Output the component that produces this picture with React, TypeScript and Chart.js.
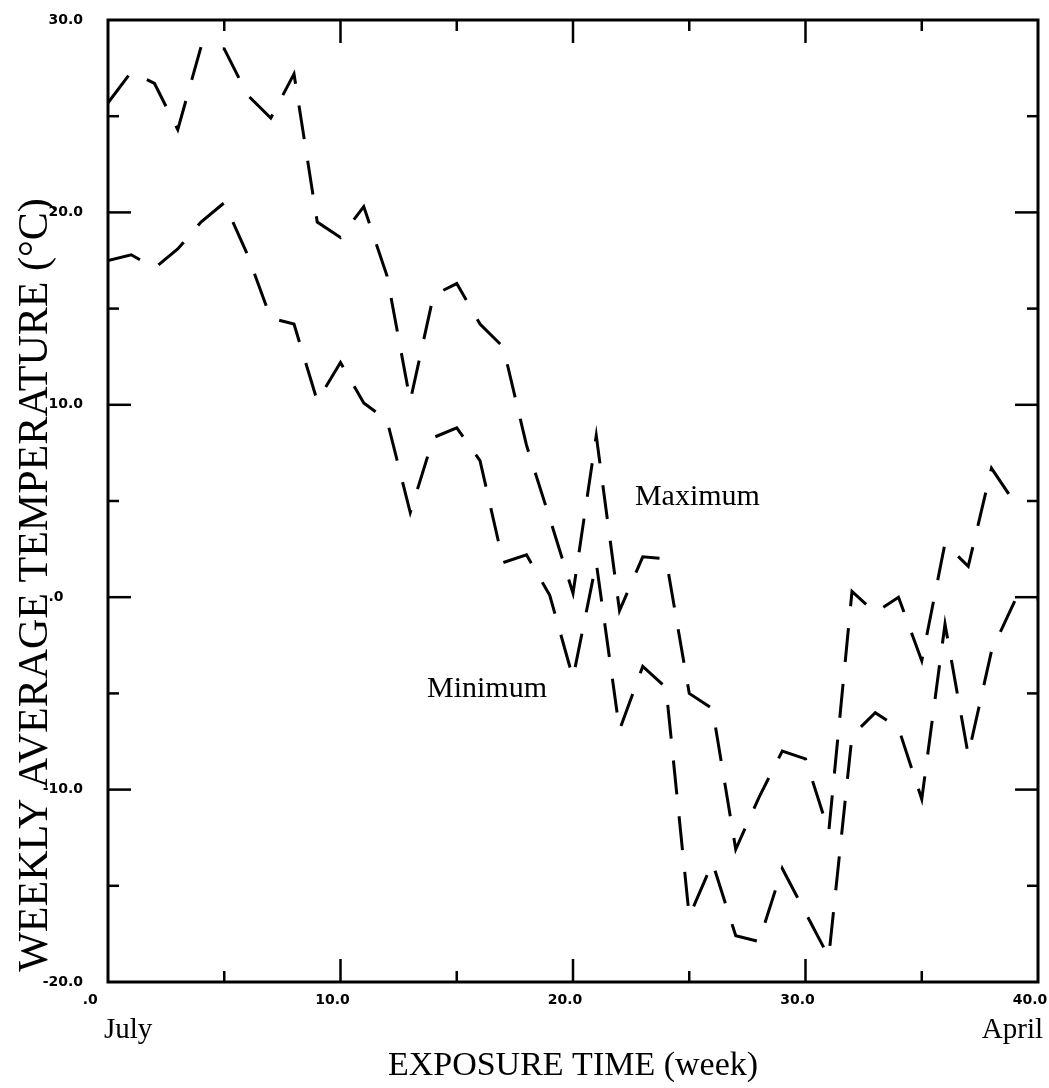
import { useEffect, useRef } from "react";
import { Chart, registerables } from "chart.js";

Chart.register(...registerables);

// ---- data ----
const weeks = [
  0, 1, 2, 3, 4, 5, 6, 7, 8, 9, 10, 11, 12, 13, 14, 15, 16, 17, 18, 19, 20,
  21, 22, 23, 24, 25, 26, 27, 28, 29, 30, 31, 32, 33, 34, 35, 36, 37, 38, 39, 40,
];

const maxTemp: (number | null)[] = [
  25.7, 27.3, 26.7, 24.3, 28.6, 28.5, 26.1, 24.9, 27.2, 19.5, 18.7, 20.3, 16.7,
  10.2, 15.7, 16.3, 14.2, 13.0, 7.9, 4.1, 0.2, 8.4, -0.7, 2.1, 2.0, -5.0, -5.8,
  -13.1, -10.4, -8.0, -8.4, -12.2, 0.3, -0.8, 0.0, -3.3, 2.8, 1.6, 6.7, 4.9,
  null,
];

const minTemp: (number | null)[] = [
  17.5, 17.8, 17.1, 18.1, 19.5, 20.5, 17.8, 14.5, 14.2, 10.2, 12.2, 10.1, 9.2,
  4.4, 8.3, 8.8, 7.1, 1.8, 2.2, 0.1, -4.2, 1.8, -6.9, -3.6, -4.7, -16.6, -13.8,
  -17.6, -17.9, -14.1, -16.4, -18.7, -7.2, -6.0, -6.8, -10.5, -1.4, -8.2, -2.8,
  -0.2, -0.1,
];

const yTickValues = [-20, -10, 0, 10, 20, 30];
const xTickValues = [0, 10, 20, 30, 40];
const yTickMarks = [-15, -10, -5, 0, 5, 10, 15, 20, 25];
const xTickMarks = [5, 10, 15, 20, 25, 30, 35];

const seriesLabels = ["Maximum", "Minimum"];
const xTitle = "EXPOSURE TIME (week)";
const yTitle = "WEEKLY AVERAGE TEMPERATURE (°C)";
const startLabel = "July";
const endLabel = "April";

// ---- helpers ----
const fmt = (v: number) => (v === 0 ? ".0\u2007\u2007" : v.toFixed(1));
const SERIF = '"Liberation Serif", "Times New Roman", serif';

const decor = {
  id: "decor",
  afterDraw(chart: any) {
    const { ctx, chartArea: a, scales } = chart;
    const xs = scales.x;
    const ys = scales.y;
    ctx.save();
    ctx.strokeStyle = "#000";
    ctx.fillStyle = "#000";
    ctx.lineCap = "butt";

    // frame
    ctx.lineWidth = 3;
    ctx.strokeRect(a.left, a.top, a.right - a.left, a.bottom - a.top);

    // inward tick marks
    ctx.lineWidth = 2.5;
    const seg = (x1: number, y1: number, x2: number, y2: number) => {
      ctx.beginPath();
      ctx.moveTo(x1, y1);
      ctx.lineTo(x2, y2);
      ctx.stroke();
    };
    for (const v of yTickMarks) {
      const py = ys.getPixelForValue(v);
      const len = v % 10 === 0 ? 23 : 11;
      seg(a.left, py, a.left + len, py);
      seg(a.right, py, a.right - len, py);
    }
    for (const v of xTickMarks) {
      const px = xs.getPixelForValue(v);
      const len = v % 10 === 0 ? 23 : 11;
      seg(px, a.bottom, px, a.bottom - len);
      seg(px, a.top, px, a.top + len);
    }

    // series labels
    ctx.font = `30px ${SERIF}`;
    ctx.textAlign = "center";
    ctx.textBaseline = "middle";
    ctx.fillText(seriesLabels[0], xs.getPixelForValue(25.35), ys.getPixelForValue(5.2));
    ctx.fillText(seriesLabels[1], xs.getPixelForValue(16.3), ys.getPixelForValue(-4.8));

    // month labels
    ctx.font = `29px ${SERIF}`;
    ctx.textAlign = "left";
    ctx.fillText(startLabel, a.left - 4, 1030);
    ctx.textAlign = "right";
    ctx.fillText(endLabel, a.right + 5, 1030);

    // x title
    ctx.font = `34px ${SERIF}`;
    ctx.textAlign = "center";
    ctx.fillText(xTitle, (a.left + a.right) / 2, 1066);

    // y title
    ctx.save();
    ctx.translate(36, 585);
    ctx.rotate(-Math.PI / 2);
    ctx.font = `42px ${SERIF}`;
    ctx.textAlign = "center";
    ctx.textBaseline = "middle";
    ctx.fillText(yTitle, 0, 0);
    ctx.restore();

    ctx.restore();
  },
};

export default function App() {
  const ref = useRef<HTMLCanvasElement | null>(null);

  useEffect(() => {
    if (!ref.current) return;
    const lineStyle = {
      borderColor: "#000",
      borderWidth: 3,
      borderDash: [34, 22],
      pointRadius: 0,
      tension: 0,
      fill: false,
      spanGaps: false,
    };
    const tickFont = { family: '"DejaVu Sans"', size: 14, weight: "bold" as const };
    const chart = new Chart(ref.current, {
      type: "line",
      data: {
        datasets: [
          {
            label: seriesLabels[0],
            data: weeks.map((w, i) => ({ x: w, y: maxTemp[i] })),
            ...lineStyle,
          },
          {
            label: seriesLabels[1],
            data: weeks.map((w, i) => ({ x: w, y: minTemp[i] })),
            ...lineStyle,
          },
        ],
      },
      options: {
        responsive: false,
        animation: false,
        events: [],
        layout: { autoPadding: false, padding: { top: 20, right: 11, bottom: 0, left: 0 } },
        plugins: {
          legend: { display: false },
          tooltip: { enabled: false },
        },
        scales: {
          x: {
            type: "linear",
            min: 0,
            max: 40,
            position: "bottom",
            afterFit: (s: any) => {
              s.height = 106;
              s.paddingLeft = 0;
              s.paddingRight = 0;
            },
            afterBuildTicks: (s: any) => {
              s.ticks = xTickValues.map((v) => ({ value: v }));
            },
            grid: { display: false, drawTicks: false },
            border: { display: false },
            ticks: {
              callback: (v: any) => fmt(Number(v)),
              font: tickFont,
              color: "#000",
              padding: 10,
              labelOffset: -8,
              maxRotation: 0,
              autoSkip: false,
            },
          },
          y: {
            type: "linear",
            min: -20,
            max: 30,
            position: "left",
            afterFit: (s: any) => {
              s.width = 108;
              s.paddingTop = 0;
              s.paddingBottom = 0;
            },
            afterBuildTicks: (s: any) => {
              s.ticks = yTickValues.map((v) => ({ value: v }));
            },
            grid: { display: false, drawTicks: false },
            border: { display: false },
            ticks: {
              callback: (v: any) => fmt(Number(v)),
              font: tickFont,
              color: "#000",
              padding: 25,
              autoSkip: false,
            },
          },
        },
      },
      plugins: [decor],
    });
    return () => chart.destroy();
  }, []);

  return (
    <div style={{ position: "fixed", left: 0, top: 0, width: 1049, height: 1088, background: "#fff" }}>
      <canvas ref={ref} width={1049} height={1088} style={{ display: "block" }} />
    </div>
  );
}
